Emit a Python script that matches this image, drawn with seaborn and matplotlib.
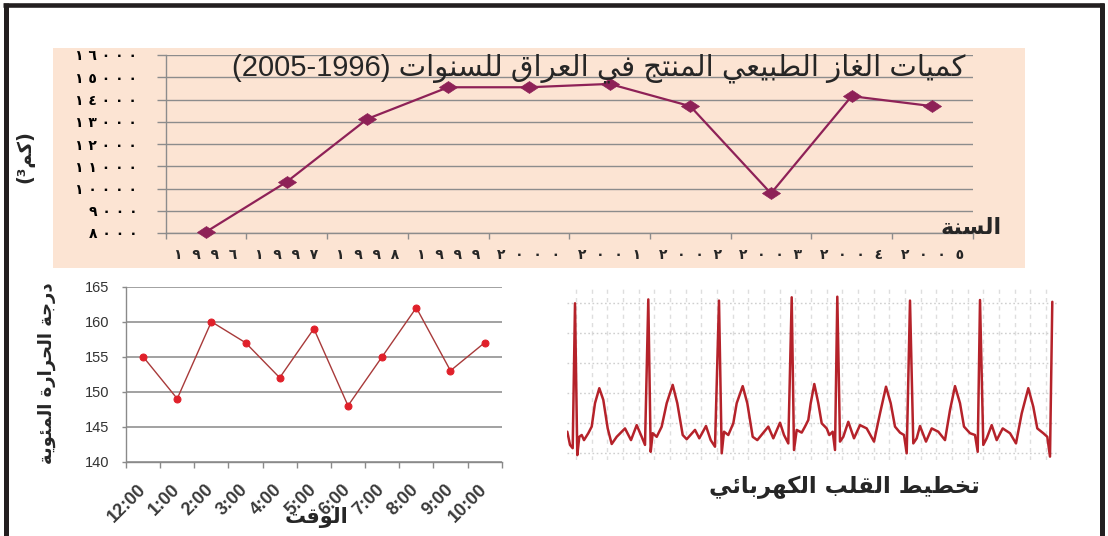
import re
import numpy as np
import matplotlib
matplotlib.use("Agg")
import matplotlib.pyplot as plt
from matplotlib.path import Path
from matplotlib.lines import Line2D
import seaborn as sns

# ---------------- data ----------------
gas_years = [1996, 1997, 1998, 1999, 2000, 2001, 2002, 2003, 2004, 2005]
gas_values = [8050, 10300, 13130, 14550, 14550, 14700, 13700, 9780, 14150, 13700]
gas_yticks = [8000, 9000, 10000, 11000, 12000, 13000, 14000, 15000, 16000]

temp_times = ['12:00', '1:00', '2:00', '3:00', '4:00', '5:00', '6:00',
              '7:00', '8:00', '9:00', '10:00']
temp_values = [155, 149, 160, 157, 152, 159, 148, 155, 162, 153, 157]
temp_yticks = [140, 145, 150, 155, 160, 165]

ecg_t = [0.3, 3.0, 5.7, 8.0, 10.3, 12.3, 14.7, 17.0, 21.3, 24.7, 28.0, 32.3, 36.3, 40.7,
         44.7, 49.7, 58.0, 64.0, 69.7, 74.7, 78.0, 81.3, 83.7, 85.7, 89.7, 94.7, 99.7,
         105.7, 110.3, 115.7, 119.7, 128.0, 132.3, 139.0, 143.7, 148.0, 152.0, 154.7,
         157.0, 161.3, 166.3, 169.7, 175.7, 180.3, 185.7, 190.3, 201.3, 206.3, 213.0,
         217.0, 221.3, 224.7, 227.0, 229.7, 234.7, 238.0, 241.3, 243.7, 247.3, 251.3,
         254.7, 259.7, 262.3, 265.7, 268.0, 270.3, 273.0, 276.3, 281.3, 287.0, 293.0,
         299.7, 307.0, 313.0, 319.0, 323.7, 328.0, 333.0, 337.0, 339.7, 343.0, 346.3,
         349.7, 353.0, 359.0, 364.7, 371.3, 378.0, 383.0, 388.0, 393.0, 397.0, 403.0,
         408.0, 410.7, 413.0, 416.3, 419.7, 424.7, 429.7, 435.7, 443.0, 449.0, 454.7,
         461.3, 466.3, 470.3, 476.3, 480.3, 483.0, 485.3]
ecg_v = [0.70, 0.26, 0.15, 4.98, -0.08, 0.53, 0.59, 0.42, 0.65, 0.87, 1.65, 2.15, 1.76, 0.81,
         0.29, 0.53, 0.81, 0.42, 0.92, 0.53, 0.26, 5.11, 0.03, 0.65, 0.53, 0.87, 1.65,
         2.26, 1.65, 0.59, 0.45, 0.76, 0.48, 0.89, 0.42, 0.20, 5.07, -0.02,
         0.70, 0.59, 0.98, 1.65, 2.22, 1.65, 0.53, 0.42, 0.87, 0.48, 1.00,
         0.59, 0.31, 5.18, 0.09, 0.76, 0.67, 0.87, 1.09, 1.65, 2.29, 1.65,
         0.98, 0.81, 0.59, 0.70, 0.09, 5.20, 0.37, 0.53, 1.03, 0.48, 0.92,
         0.81, 0.37, 1.31, 2.20, 1.65, 0.87, 0.67, 0.59, -0.02, 5.07, 0.31,
         0.48, 0.89, 0.37, 0.81, 0.70, 0.42, 1.42, 2.22, 1.65, 0.87, 0.65,
         0.59, 0.03, 5.09, 0.26, 0.48, 0.92, 0.42, 0.81, 0.65, 0.31, 1.31,
         2.15, 1.53, 0.81, 0.65, 0.53, -0.13, 5.03]

gas_title = 'كميات الغاز الطبيعي المنتج في العراق للسنوات (1996-2005)'
gas_xlabel = 'السنة'
gas_ylabel = '(كم³)'
temp_ylabel = 'درجة الحرارة المئوية'
temp_xlabel = 'الوقت'
ecg_title = 'تخطيط القلب الكهربائي'

# ---------------- minimal Arabic shaping (presentation forms + RTL order) -------------
FORMS = {
    'ء': ('\uFE80', None, None, None),
    'آ': ('\uFE81', '\uFE82', None, None),
    'أ': ('\uFE83', '\uFE84', None, None),
    'ؤ': ('\uFE85', '\uFE86', None, None),
    'إ': ('\uFE87', '\uFE88', None, None),
    'ئ': ('\uFE89', '\uFE8A', '\uFE8B', '\uFE8C'),
    'ا': ('\uFE8D', '\uFE8E', None, None),
    'ب': ('\uFE8F', '\uFE90', '\uFE91', '\uFE92'),
    'ة': ('\uFE93', '\uFE94', None, None),
    'ت': ('\uFE95', '\uFE96', '\uFE97', '\uFE98'),
    'ث': ('\uFE99', '\uFE9A', '\uFE9B', '\uFE9C'),
    'ج': ('\uFE9D', '\uFE9E', '\uFE9F', '\uFEA0'),
    'ح': ('\uFEA1', '\uFEA2', '\uFEA3', '\uFEA4'),
    'خ': ('\uFEA5', '\uFEA6', '\uFEA7', '\uFEA8'),
    'د': ('\uFEA9', '\uFEAA', None, None),
    'ذ': ('\uFEAB', '\uFEAC', None, None),
    'ر': ('\uFEAD', '\uFEAE', None, None),
    'ز': ('\uFEAF', '\uFEB0', None, None),
    'س': ('\uFEB1', '\uFEB2', '\uFEB3', '\uFEB4'),
    'ش': ('\uFEB5', '\uFEB6', '\uFEB7', '\uFEB8'),
    'ص': ('\uFEB9', '\uFEBA', '\uFEBB', '\uFEBC'),
    'ض': ('\uFEBD', '\uFEBE', '\uFEBF', '\uFEC0'),
    'ط': ('\uFEC1', '\uFEC2', '\uFEC3', '\uFEC4'),
    'ظ': ('\uFEC5', '\uFEC6', '\uFEC7', '\uFEC8'),
    'ع': ('\uFEC9', '\uFECA', '\uFECB', '\uFECC'),
    'غ': ('\uFECD', '\uFECE', '\uFECF', '\uFED0'),
    'ف': ('\uFED1', '\uFED2', '\uFED3', '\uFED4'),
    'ق': ('\uFED5', '\uFED6', '\uFED7', '\uFED8'),
    'ك': ('\uFED9', '\uFEDA', '\uFEDB', '\uFEDC'),
    'ل': ('\uFEDD', '\uFEDE', '\uFEDF', '\uFEE0'),
    'م': ('\uFEE1', '\uFEE2', '\uFEE3', '\uFEE4'),
    'ن': ('\uFEE5', '\uFEE6', '\uFEE7', '\uFEE8'),
    'ه': ('\uFEE9', '\uFEEA', '\uFEEB', '\uFEEC'),
    'و': ('\uFEED', '\uFEEE', None, None),
    'ى': ('\uFEEF', '\uFEF0', None, None),
    'ي': ('\uFEF1', '\uFEF2', '\uFEF3', '\uFEF4'),
}
LAMALEF = {'ا': ('\uFEFB', '\uFEFC'), 'أ': ('\uFEF7', '\uFEF8'),
           'إ': ('\uFEF9', '\uFEFA'), 'آ': ('\uFEF5', '\uFEF6')}


def _jn(c):
    return c in FORMS and FORMS[c][2] is not None


def _jp(c):
    return c in FORMS and FORMS[c][1] is not None


def ar(s):
    out = []
    i, n = 0, len(s)
    while i < n:
        c = s[i]
        if c not in FORMS:
            out.append(c)
            i += 1
            continue
        prev = s[i - 1] if i > 0 else ''
        p = _jn(prev) and _jp(c)
        if c == 'ل' and i + 1 < n and s[i + 1] in LAMALEF:
            iso, fin = LAMALEF[s[i + 1]]
            out.append(fin if p else iso)
            i += 2
            continue
        nxt = s[i + 1] if i + 1 < n else ''
        q = _jn(c) and _jp(nxt)
        f = FORMS[c]
        out.append(f[3] if (p and q) else f[1] if p else f[2] if q else f[0])
        i += 1
    r = ''.join(out)[::-1]
    r = r.translate(str.maketrans('()', ')('))
    r = re.sub(r'[0-9\u00b2\u00b3]+', lambda m: m.group(0)[::-1], r)
    return r


def ar_digits(n, sep=' '):
    return sep.join('٠١٢٣٤٥٦٧٨٩'[int(d)] for d in str(n))


# ---------------- figure ----------------
sns.set_style("white")
plt.rcParams['font.family'] = ['Liberation Sans', 'DejaVu Sans']

W, H = 1108, 536
fig = plt.figure(figsize=(W / 100, H / 100), dpi=100)
fig.patch.set_facecolor('white')


def fx(px):
    return px / W


def fy(py):
    return 1 - py / H


AR = ['DejaVu Sans']
MIX = ['Liberation Sans', 'DejaVu Sans']

# peach panel (behind everything)
bg = fig.add_axes([fx(53), fy(268), 972 / W, 220 / H], zorder=-5)
bg.set_facecolor('#fce4d3')
bg.set_xticks([])
bg.set_yticks([])
for s in bg.spines.values():
    s.set_visible(False)

# ---- top chart: gas production ----
ax1 = fig.add_axes([fx(165.7), fy(233), 807 / W, 178 / H], zorder=2)
ax1.set_facecolor('none')
diamond = Path([(-1, 0), (0, 0.66), (1, 0), (0, -0.66), (-1, 0)],
               [Path.MOVETO, Path.LINETO, Path.LINETO, Path.LINETO, Path.CLOSEPOLY])
gas_col = '#8e2157'
sns.lineplot(x=np.arange(len(gas_values)), y=gas_values, ax=ax1, color=gas_col,
             lw=1.6, marker=diamond, markersize=13, markerfacecolor=gas_col,
             markeredgecolor=gas_col, markeredgewidth=0.5, estimator=None, zorder=3,
             clip_on=False)
ax1.set_xlim(-0.5, len(gas_values) - 0.5)
ax1.set_ylim(8000, 16000)
ax1.set_yticks(gas_yticks)
ax1.set_yticklabels([ar_digits(v) for v in gas_yticks], family=AR, weight='bold',
                    fontsize=10)
ax1.set_xticks(np.arange(len(gas_years)))
ax1.set_xticklabels([ar_digits(v, '  ') for v in gas_years], family=AR,
                    weight='bold', fontsize=10)
ax1.set_xticks(np.arange(-0.5, len(gas_years)), minor=True)
ax1.yaxis.grid(True, color='#8c8c8c', lw=1.0)
ax1.xaxis.grid(False)
ax1.set_axisbelow(True)
for s in ['top', 'right']:
    ax1.spines[s].set_visible(False)
for s in ['left', 'bottom']:
    ax1.spines[s].set_color('#8c8c8c')
    ax1.spines[s].set_linewidth(1.0)
ax1.tick_params(axis='y', left=True, length=6.5, width=1.0, color='#8c8c8c', pad=14,
                labelcolor='black')
ax1.tick_params(axis='x', which='major', bottom=False, length=0, pad=11)
ax1.tick_params(axis='x', which='minor', bottom=True, length=4, width=1.0,
                color='#8c8c8c')
ax1.set_xlabel('')
ax1.set_ylabel('')

fig.text(fx(965), fy(68), ar(gas_title), ha='right', va='center', fontsize=21,
         family=MIX, zorder=5)
fig.text(fx(971), fy(228), ar(gas_xlabel), ha='center', va='center', fontsize=16,
         weight='bold', family=AR, zorder=5)
fig.text(fx(25), fy(157), ar(gas_ylabel), ha='center', va='center', fontsize=14,
         weight='bold', family=AR, rotation=90)

# ---- bottom-left chart: temperature ----
ax2 = fig.add_axes([fx(126), fy(461.7), 375.7 / W, 175 / H])
sns.lineplot(x=np.arange(len(temp_values)), y=temp_values, ax=ax2, color='#a83a3a',
             lw=1.0, marker='o', markersize=5, markerfacecolor='#e0202a',
             markeredgecolor='#e0202a', estimator=None, zorder=3)
ax2.set_xlim(-0.5, len(temp_values) - 0.5)
ax2.set_ylim(140, 165)
ax2.set_yticks(temp_yticks)
ax2.set_yticklabels([str(v) for v in temp_yticks], fontsize=10.5, color='#333333')
ax2.set_xticks(np.arange(len(temp_times)))
ax2.set_xticklabels(temp_times, rotation=45, ha='right', va='center',
                    rotation_mode='anchor', fontsize=13, weight='bold', color='#3a3a3a')
ax2.set_xticks(np.arange(-0.5, len(temp_times)), minor=True)
ax2.yaxis.grid(True, color='#9a9a9a', lw=1.3)
ax2.xaxis.grid(False)
ax2.set_axisbelow(True)
for s in ['top', 'right']:
    ax2.spines[s].set_visible(False)
for s in ['left', 'bottom']:
    ax2.spines[s].set_color('#8a8a8a')
    ax2.spines[s].set_linewidth(1.0)
ax2.tick_params(axis='y', left=True, length=3, width=1.0, color='#8a8a8a', pad=9)
ax2.tick_params(axis='x', which='major', bottom=False, length=0, pad=18)
ax2.tick_params(axis='x', which='minor', bottom=True, length=4, width=1.0,
                color='#8a8a8a')
ax2.set_xlabel('')
ax2.set_ylabel('')

fig.text(fx(47), fy(373), ar(temp_ylabel), ha='center', va='center', fontsize=13,
         weight='bold', family=AR, rotation=90)
fig.text(fx(317), fy(518), ar(temp_xlabel), ha='center', va='center', fontsize=15,
         weight='bold', family=AR)

# ---- ECG ----
ax3 = fig.add_axes([fx(567), fy(460), 490 / W, 175 / H])
ax3.set_xlim(0, 490)
ax3.set_ylim(-0.243, 5.59)
ax3.set_yticks(range(0, 6))
ax3.set_xticks(np.arange(9, 490, 15.67))
ax3.yaxis.grid(True, color='#cfcfcf', lw=1.0, ls=(0, (1.2, 1.8)))
ax3.xaxis.grid(True, color='#dedede', lw=1.0, ls=(0, (3, 3)))
ax3.set_axisbelow(True)
ax3.tick_params(left=False, bottom=False, labelleft=False, labelbottom=False)
for s in ax3.spines.values():
    s.set_visible(False)
sns.lineplot(x=ecg_t, y=ecg_v, ax=ax3, color='#b5222a', lw=1.8, sort=False,
             estimator=None, zorder=3)
ax3.lines[-1].set_solid_joinstyle('round')
ax3.set_xlabel('')
ax3.set_ylabel('')
fig.text(fx(844.5), fy(487), ar(ecg_title), ha='center', va='center', fontsize=16.5,
         weight='bold', family=AR)

# ---- frame ----
frame = '#231f20'
fig.add_artist(Line2D([fx(5.8), fx(5.8)], [fy(2.7), fy(536)], transform=fig.transFigure,
                      color=frame, lw=3.6, solid_capstyle='butt'))
fig.add_artist(Line2D([fx(3.3), fx(1104)], [fy(4.9), fy(4.9)], transform=fig.transFigure,
                      color=frame, lw=3.3, solid_capstyle='butt'))
fig.add_artist(Line2D([fx(1101.5), fx(1101.5)], [fy(2.7), fy(536)],
                      transform=fig.transFigure, color=frame, lw=3.6,
                      solid_capstyle='butt'))

fig.savefig('out.png', dpi=100)
